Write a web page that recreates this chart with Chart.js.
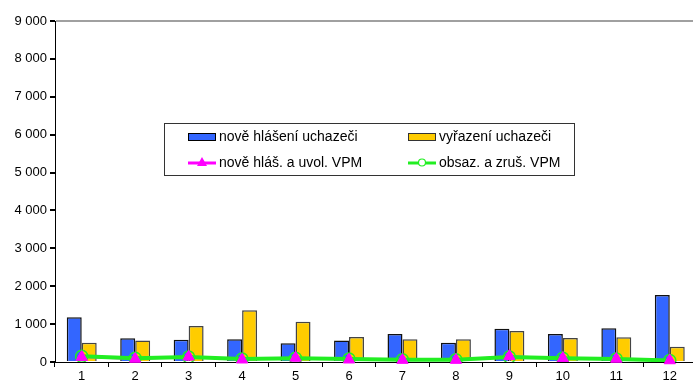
<!DOCTYPE html>
<html>
<head>
<meta charset="utf-8">
<script src="https://cdn.jsdelivr.net/npm/chart.js@4"></script>
<style>
  html, body { margin: 0; padding: 0; background: #fff; overflow: hidden; }
  #wrap { width: 704px; height: 385px; }
</style>
</head>
<body>
<div id="wrap"><canvas id="chart" width="704" height="385"></canvas></div>
<script>
// ─── DATA ─────────────────────────────────────────────────────
const months      = ['1', '2', '3', '4', '5', '6', '7', '8', '9', '10', '11', '12'];
const noveHlaseni = [1180, 625, 590, 600, 495, 565, 740, 510, 880, 740, 890, 1770];
const vyrazeni    = [510, 570, 950, 1365, 1065, 660, 600, 600, 820, 635, 650, 405];
const noveVpm     = [130, 80, 140, 60, 110, 60, 50, 50, 150, 100, 80, 40];
const obsazVpm    = [150, 100, 130, 80, 100, 80, 60, 60, 130, 100, 80, 40];
const yTicks      = [0, 1000, 2000, 3000, 4000, 5000, 6000, 7000, 8000, 9000];

const labelsText = ['nově hlášení uchazeči', 'vyřazení uchazeči', 'nově hláš. a uvol. VPM', 'obsaz. a zruš. VPM'];
const FONT = '"Liberation Sans", Arial, sans-serif';

const fmt = v => String(v).replace(/\B(?=(\d{3})+(?!\d))/g, ' ');

// ─── LEGEND BOX (inside plot) ─────────────────────────────────
const boxLegend = {
    id: 'boxLegend',
    afterDatasetsDraw(chart) {
        const ctx = chart.ctx;
        // magenta markers on top of the green line
        const meta = chart.getDatasetMeta(2);
        meta.data.forEach(p => p.draw(ctx));

        ctx.save();
        ctx.fillStyle = '#fff';
        ctx.fillRect(164, 123, 410, 52);
        ctx.strokeStyle = '#333';
        ctx.lineWidth = 1;
        ctx.strokeRect(164.5, 123.5, 410, 52);

        ctx.font = '14px ' + FONT;
        ctx.textBaseline = 'middle';

        // bars
        ctx.fillStyle = '#3366ff'; ctx.fillRect(188, 134, 27, 6);
        ctx.strokeStyle = '#000'; ctx.strokeRect(188.5, 133.5, 27, 7);
        ctx.fillStyle = '#ffcc00'; ctx.fillRect(408, 134, 27, 6);
        ctx.strokeStyle = '#333'; ctx.strokeRect(408.5, 133.5, 27, 7);

        // lines
        ctx.strokeStyle = '#ff00ff'; ctx.lineWidth = 3;
        ctx.beginPath(); ctx.moveTo(188, 163); ctx.lineTo(216, 163); ctx.stroke();
        ctx.fillStyle = '#ff00ff';
        ctx.beginPath(); ctx.moveTo(202, 157); ctx.lineTo(207, 166); ctx.lineTo(197, 166); ctx.closePath(); ctx.fill();

        ctx.strokeStyle = '#22ee22'; ctx.lineWidth = 3;
        ctx.beginPath(); ctx.moveTo(408, 163); ctx.lineTo(436, 163); ctx.stroke();
        ctx.fillStyle = '#fff'; ctx.lineWidth = 1.2;
        ctx.beginPath(); ctx.arc(422, 162.5, 3.5, 0, Math.PI * 2); ctx.fill(); ctx.stroke();

        ctx.fillStyle = '#000';
        ctx.fillText(labelsText[0], 219, 137);
        ctx.fillText(labelsText[1], 439, 137);
        ctx.fillText(labelsText[2], 219, 163);
        ctx.fillText(labelsText[3], 439, 163);
        ctx.restore();
    }
};

// ─── CHART ────────────────────────────────────────────────────
new Chart(document.getElementById('chart'), {
    type: 'bar',
    data: {
        labels: months,
        datasets: [
            {
                label: labelsText[0], data: noveHlaseni, order: 4,
                backgroundColor: '#3366ff', borderColor: '#111', borderWidth: 1.5,
                barPercentage: 1, categoryPercentage: 0.56
            },
            {
                label: labelsText[1], data: vyrazeni, order: 4,
                backgroundColor: '#ffcc00', borderColor: '#444', borderWidth: 1.5,
                barPercentage: 1, categoryPercentage: 0.56
            },
            {
                type: 'line', label: labelsText[2], data: noveVpm, order: 3,
                borderColor: '#ff33ff', borderWidth: 2, tension: 0,
                pointStyle: 'triangle', pointRadius: 6.5,
                pointBackgroundColor: '#ff00ff', pointBorderColor: '#ff00ff', pointBorderWidth: 1
            },
            {
                type: 'line', label: labelsText[3], data: obsazVpm, order: 2,
                borderColor: '#22ee22', borderWidth: 4, tension: 0,
                pointStyle: 'circle', pointRadius: 6,
                pointBackgroundColor: 'rgba(0,0,0,0)', pointBorderColor: '#22ee22', pointBorderWidth: 1.5
            }
        ]
    },
    options: {
        responsive: false,
        animation: false,
        events: [],
        layout: { padding: { top: 21, right: 1, left: 0, bottom: 0 } },
        plugins: { legend: { display: false }, tooltip: { enabled: false } },
        scales: {
            x: {
                offset: true,
                grid: { offset: true, drawOnChartArea: false, tickLength: 5, tickColor: '#000' },
                border: { color: '#000', width: 1 },
                ticks: { color: '#000', font: { family: FONT, size: 13 }, padding: 2, maxRotation: 0 },
                afterFit(s) { s.height = 23; }
            },
            y: {
                min: 0, max: 9000,
                afterBuildTicks(s) { s.ticks = yTicks.map(v => ({ value: v })); },
                grid: {
                    color: c => (c.tick && c.tick.value === 9000 ? '#a0a0a0' : 'rgba(0,0,0,0)'),
                    lineWidth: 2,
                    tickColor: '#000', tickLength: 5
                },
                border: { color: '#000', width: 1 },
                ticks: { color: '#000', font: { family: FONT, size: 13 }, padding: 3, callback: v => fmt(v) },
                afterFit(s) { s.width = 55; }
            }
        }
    },
    plugins: [boxLegend]
});
</script>
</body>
</html>
